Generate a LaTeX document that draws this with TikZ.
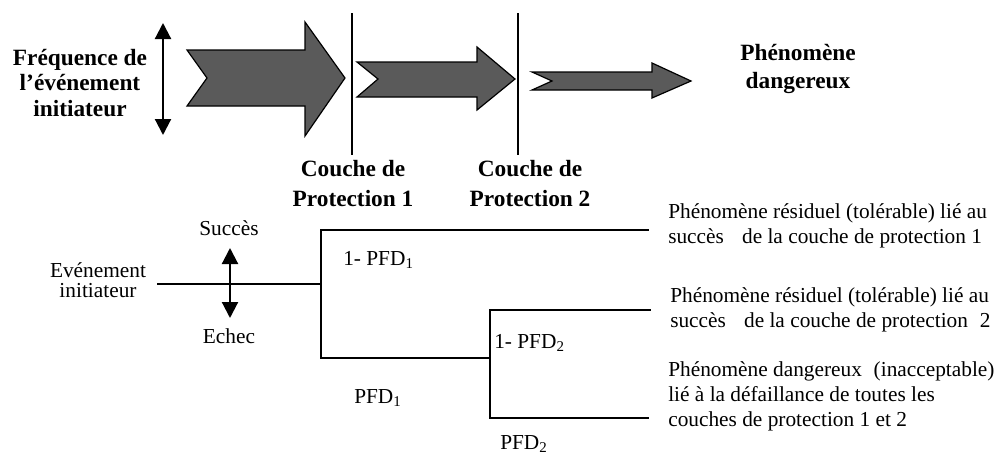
\documentclass[tikz,border=0pt]{standalone}
\usepackage{fontspec}
\setmainfont{Liberation Serif}
\usetikzlibrary{arrows.meta}
\definecolor{arrowgray}{RGB}{90,90,90}
\begin{document}
\begin{tikzpicture}[x=0.75pt,y=-0.75pt,
  bigarrow/.style={draw=black, line width=0.9pt, fill=arrowgray, line join=miter},
  barrier/.style={draw=black, line width=1.3pt},
  twoway/.style={draw=black, line width=1.6pt, {Triangle[length=12pt,width=12pt]}-{Triangle[length=12pt,width=12pt]}},
  branch/.style={draw=black, line width=1.8pt, line cap=rect},
  boldlabel/.style={font=\fontsize{17.5}{22.5}\selectfont\bfseries, align=center, inner sep=0pt},
  plainlabel/.style={font=\fontsize{16}{18.75}\selectfont, align=left, inner sep=0pt},
  problabel/.style={font=\fontsize{16}{18.75}\selectfont, inner sep=0pt, anchor=west}]
\useasboundingbox (0,0) rectangle (998,457);

% --- upper part: frequency reduced by successive protection layers ---
\node[boldlabel, font=\fontsize{17.5}{19.2}\selectfont\bfseries] (freq) at (80,83) {Fréquence de\\l’événement\\initiateur};
\coordinate (fa) at (163,23);
\coordinate (fb) at (163,135);
\draw[twoway] (fa) -- (fb);

\draw[bigarrow] (187,50) -- (305,50) -- (305,22) -- (345,78) -- (305,136) -- (305,106) -- (187,106) -- (207,78) -- cycle;
\draw[bigarrow] (357,62) -- (477,62) -- (477,47) -- (515,79) -- (477,110) -- (477,97) -- (357,97) -- (378,79) -- cycle;
\draw[bigarrow] (532,72) -- (652,72) -- (652,63) -- (691,81) -- (652,98) -- (652,90) -- (532,90) -- (552,81) -- cycle;

\coordinate (l1a) at (352,13);
\coordinate (l1b) at (352,155);
\coordinate (l2a) at (518,13);
\coordinate (l2b) at (518,155);
\draw[barrier] (l1a) -- (l1b);
\draw[barrier] (l2a) -- (l2b);

\node[boldlabel, font=\fontsize{17.5}{21}\selectfont\bfseries] (danger) at (798,69) {Phénomène\\dangereux};
\node[boldlabel] (layer1) at (353,184) {Couche de\\Protection 1};
\node[boldlabel] (layer2) at (530,184) {Couche de\\Protection 2};

% --- lower part: event tree ---
\node[font=\fontsize{16}{15}\selectfont, align=center, inner sep=0pt] (init) at (98,280) {Evénement\\initiateur};
\node[font=\fontsize{16}{20}\selectfont, inner sep=0pt] (succ) at (229,228) {Succès};
\node[font=\fontsize{16}{20}\selectfont, inner sep=0pt] (fail) at (229,336) {Echec};
\coordinate (sa) at (230,248);
\coordinate (sb) at (230,318);
\draw[twoway] (sa) -- (sb);

\coordinate (root) at (158,284);
\coordinate (n1) at (321,284);
\coordinate (n1up) at (321,230);
\coordinate (n1dn) at (321,358);
\coordinate (e1) at (648,230);
\coordinate (n2) at (490,358);
\coordinate (n2up) at (490,310);
\coordinate (n2dn) at (490,418);
\coordinate (e2) at (650,310);
\coordinate (e3) at (648,418);

\draw[branch] (root) -- (n1);
\draw[branch] (e1) -- (n1up) -- (n1dn) -- (n2);
\draw[branch] (e2) -- (n2up) -- (n2dn) -- (e3);

\node[problabel] (p1s) at (343,260) {1- PFD\textsubscript{1}};
\node[problabel] (p1f) at (354,398) {PFD\textsubscript{1}};
\node[problabel] (p2s) at (494,343) {1- PFD\textsubscript{2}};
\node[problabel] (p2f) at (500,444) {PFD\textsubscript{2}};

\node[plainlabel, anchor=west] (out1) at (668,226) {Phénomène résiduel (tolérable) lié au\\succès\hspace{0.6em} de la couche de protection 1};
\node[plainlabel, anchor=west] (out2) at (670,310) {Phénomène résiduel (tolérable) lié au\\succès\hspace{0.6em} de la couche de protection\hspace{0.3em} 2};
\node[plainlabel, anchor=west] (out3) at (668,396) {Phénomène dangereux\hspace{0.3em} (inacceptable)\\lié à la défaillance de toutes les\\couches de protection 1 et 2};
\end{tikzpicture}
\end{document}
